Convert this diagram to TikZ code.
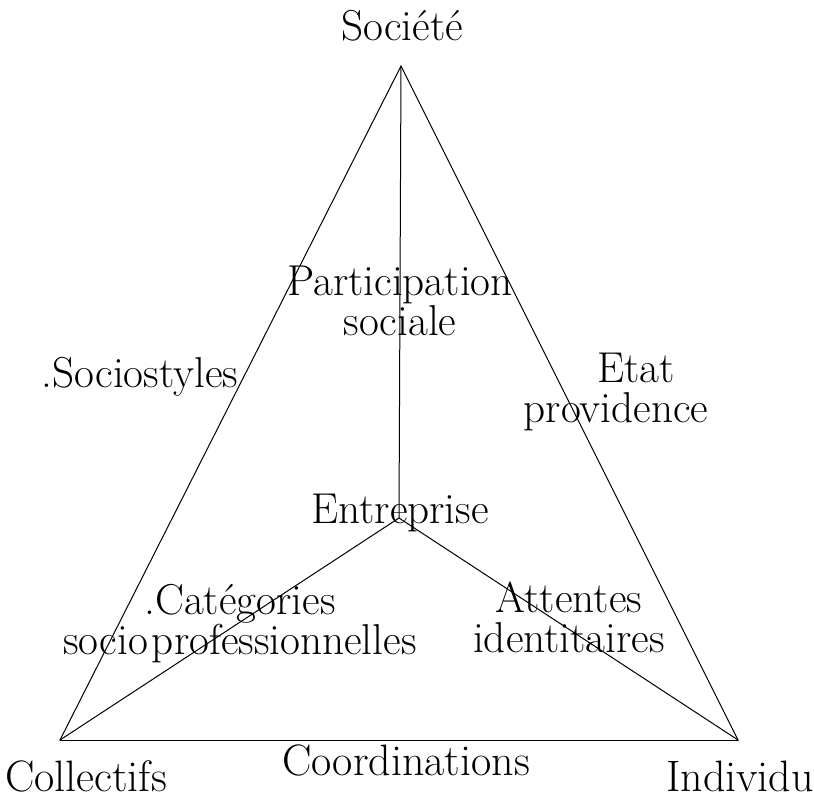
\documentclass[tikz,border=0pt]{standalone}
\usepackage{tikz}
\tikzstyle{every node}=[font=\fontsize{21.6}{19.6}\selectfont,inner sep=0pt]
\tikzstyle{pole}=[font=\fontsize{22}{22}\selectfont]
\tikzstyle{edge}=[line width=0.5pt]
\begin{document}
\begin{tikzpicture}[line cap=round,line join=round,x=0.5pt,y=-0.5pt]
            \useasboundingbox (0,0) rectangle (814,799);
            \coordinate (soc) at (401,66);
            \coordinate (ent) at (399,518);
            \coordinate (col) at (60,740);
            \coordinate (ind) at (738,740);
            \draw [edge] (soc)-- (col);
            \draw [edge] (col)-- (ind);
            \draw [edge] (ind)-- (soc);
            \draw [edge] (soc)-- (ent);
            \draw [edge] (ent)-- (col);
            \draw [edge] (ent)-- (ind);
            \node [anchor=base] (societe) at (402,40) {Société};
            \node [anchor=base,align=center] (particip) at (400,335) {Participation\\sociale};
            \node [anchor=base] (socio) at (140,387) {.Sociostyles};
            \node [anchor=base,align=center] (etat) at (616,422) {\hspace*{20pt}Etat\\providence};
            \node [anchor=base] (entrep) at (400,523) {Entreprise};
            \node [anchor=base,align=center] (categ) at (240,654) {.Catégories\\socio\kern2pt professionnelles};
            \node [anchor=base,align=center] (attentes) at (569,652) {Attentes\\identitaires};
            \node [pole,anchor=base] (collectifs) at (86,791) {Collectifs};
            \node [pole,anchor=base] (coord) at (406,775) {Coordinations};
            \node [pole,anchor=base] (individu) at (740,791) {Individu};
\end{tikzpicture}
\end{document}
